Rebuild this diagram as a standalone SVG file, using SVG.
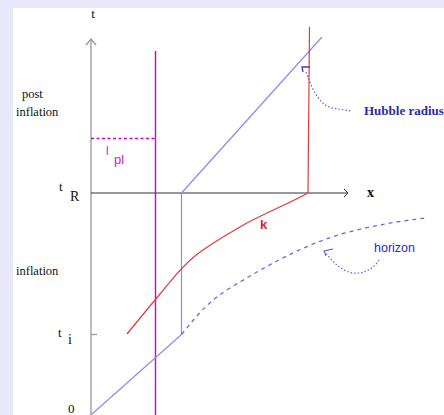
<svg xmlns="http://www.w3.org/2000/svg" width="444" height="415" viewBox="0 0 444 415">
<style>
.lbl{font-family:"Liberation Serif",serif;fill:#111;}
.axis{stroke:#999;stroke-width:1.3;fill:none;}
.xaxis{stroke:#333;stroke-width:1;fill:none;}
.blue{stroke:#8a8af0;stroke-width:1.2;fill:none;}
.red{stroke:#e43a3a;stroke-width:1.2;fill:none;}
.mag{stroke:#d000d0;stroke-width:1.4;fill:none;}
.dot{stroke:#5a5ad8;stroke-width:1.1;fill:none;stroke-dasharray:1.5 2;}
.dash{stroke:#6a6ae0;stroke-width:1.3;fill:none;stroke-dasharray:4 4;}
</style>
<rect x="0" y="0" width="444" height="415" fill="#e8e8fa"/>
<rect x="13" y="8" width="431" height="407" fill="#ffffff"/>
<g id="axes">
<line class="axis" x1="91" y1="39" x2="91" y2="415"/>
<polyline class="axis" points="86,45 91,39 96,45"/>
<line class="xaxis" x1="91" y1="193" x2="348" y2="193"/>
<polyline class="xaxis" points="344,189 348,193 344,197"/>
<line class="axis" x1="91" y1="334.5" x2="97" y2="334.5"/>
</g>
<g id="labels">
<text class="lbl" x="93" y="18" font-size="13" text-anchor="middle">t</text>
<text class="lbl" x="22" y="98" font-size="12.5">post</text>
<text class="lbl" x="16" y="116" font-size="12.5">inflation</text>
<text class="lbl" x="16" y="275" font-size="12.5">inflation</text>
<text class="lbl" x="59" y="191" font-size="13">t</text>
<text class="lbl" x="70" y="201" font-size="14">R</text>
<text class="lbl" x="58" y="337" font-size="13">t</text>
<text class="lbl" x="68" y="344" font-size="14">i</text>
<text class="lbl" x="68" y="413" font-size="13">0</text>
<text class="lbl" x="367" y="197" font-size="14" font-weight="bold">x</text>
</g>
<g id="planck">
<line class="mag" x1="155.5" y1="51" x2="155.5" y2="415"/>
<line class="mag" x1="91" y1="138.5" x2="155" y2="138.5" stroke-dasharray="3 2.5" stroke-width="1"/>
<text x="106" y="155" font-family="Liberation Sans,sans-serif" font-size="12" fill="#cc22cc">l</text>
<text x="114" y="164" font-family="Liberation Sans,sans-serif" font-size="13" fill="#cc22cc">pl</text>
</g>
<g id="hubble">
<line class="blue" x1="181.5" y1="193" x2="322" y2="37"/>
<line class="blue" x1="181.5" y1="193" x2="181.5" y2="334.5" stroke="#8080dd" stroke-width="1.4"/>
<line class="blue" x1="181.5" y1="334.5" x2="91" y2="415"/>
</g>
<g id="horizon">
<path class="dash" d="M181.5,334.5 C198,314 210,300 230,288 C265,267 300,246 345,233 C375,225 400,221 426,218"/>
</g>
<g id="mode-k">
<path class="red" d="M127,334 C140,318 150,306 160,294 C172,280 180,268 195,256 C210,244 225,236 245,224 C265,213 290,203 308,193"/>
<path class="red" d="M308,193 L309.5,27"/>
<text x="260" y="229" font-family="Liberation Sans,sans-serif" font-size="13" font-weight="bold" fill="#dd2222">k</text>
</g>
<g id="connectors">
<path class="dot" d="M306,72 C312,88 318,104 332,108 L351,111"/>
<polyline points="310,67 302,67 303,72" fill="none" stroke="#3a3ad0" stroke-width="1.3"/>
<path class="dot" d="M379,260 C372,272 356,277 344,270 C334,264 330,258 325,252"/>
<polyline points="333,249 324,251 326,256" fill="none" stroke="#5a5ad8" stroke-width="1.1"/>
</g>
<g id="legend">
<text x="364" y="115" font-family="Liberation Serif,serif" font-size="13" font-weight="bold" fill="#2a2ab8">Hubble radius</text>
<text x="374" y="252" font-family="Liberation Sans,sans-serif" font-size="12.5" fill="#2a2ad0">horizon</text>
</g>
</svg>
